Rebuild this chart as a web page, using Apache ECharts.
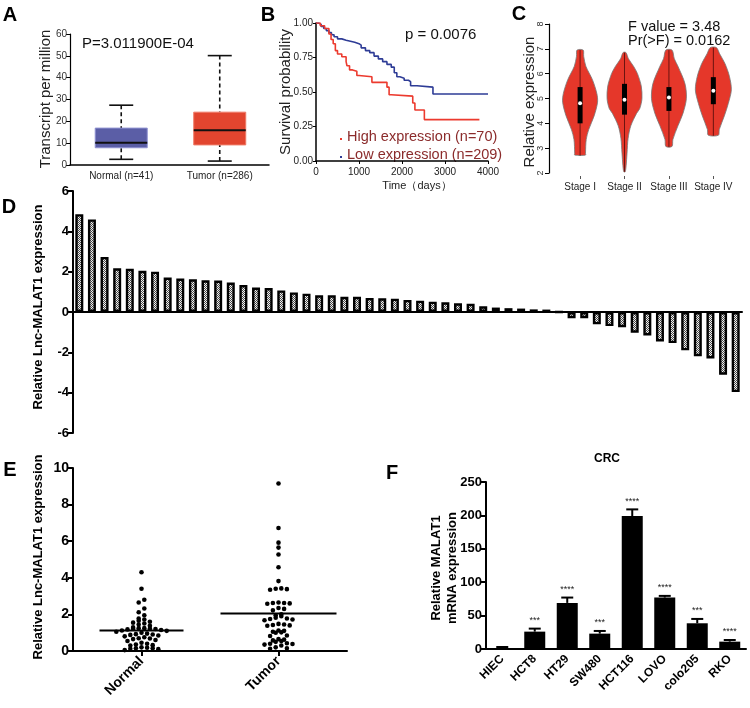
<!DOCTYPE html>
<html><head><meta charset="utf-8">
<script src="https://cdn.jsdelivr.net/npm/echarts@6/dist/echarts.min.js"></script>
<style>html,body{margin:0;padding:0;background:#fff}#main{width:750px;height:708px}</style>
</head><body><div id="main"></div>
<script>
// ---------------- DATA ----------------
// Panel A (box plots)
const A_GROUPS = ['Normal (n=41)', 'Tumor (n=286)'];
const A_MIN = [2.6, 1.8];
const A_Q1 = [7.9, 9.2];
const A_MED = [10.2, 15.9];
const A_Q3 = [16.9, 24.2];
const A_MAX = [27.4, 50.1];

// Panel B (Kaplan-Meier), [time, survival]
const KM_HIGH = [[0,1.0],[100,0.98],[200,0.96],[300,0.92],[350,0.88],[400,0.85],[450,0.80],[500,0.775],[600,0.755],[700,0.72],[720,0.69],[780,0.66],[850,0.65],[950,0.62],[1000,0.61],[1300,0.57],[1650,0.535],[1700,0.48],[1750,0.47],[2250,0.42],[2300,0.37],[2520,0.30],[3800,0.30]];
const KM_LOW = [[0,1.0],[60,0.99],[120,0.975],[180,0.96],[240,0.945],[300,0.93],[360,0.915],[420,0.9],[500,0.885],[600,0.875],[700,0.868],[800,0.86],[900,0.85],[1000,0.84],[1050,0.82],[1150,0.80],[1250,0.785],[1350,0.76],[1450,0.74],[1550,0.72],[1650,0.70],[1750,0.68],[1820,0.64],[1880,0.61],[1950,0.60],[2050,0.585],[2150,0.575],[2200,0.545],[2350,0.535],[2720,0.485],[4000,0.485]];

// Panel C (violins)
const C_STAGES = ['Stage I', 'Stage II', 'Stage III', 'Stage IV'];
const C_MIN = [2.7, 2.05, 3.05, 3.5];
const C_Q1 = [4.0, 4.35, 4.5, 4.77];
const C_MED = [4.81, 4.95, 5.04, 5.31];
const C_Q3 = [5.46, 5.59, 5.46, 5.86];
const C_MAX = [6.95, 6.85, 6.95, 7.05];
const C_PROF_1 = [[6.95,0.17],[6.7,0.2],[6.3,0.32],[5.75,0.69],[5.2,0.93],[4.85,0.97],[4.3,0.78],[3.75,0.48],[3.35,0.34],[2.8,0.3],[2.72,0.3]];
const C_PROF_2 = [[6.85,0.08],[6.6,0.22],[6.3,0.5],[6.0,0.72],[5.5,0.93],[5.0,0.97],[4.6,0.85],[4.4,0.67],[3.9,0.35],[3.4,0.2],[2.8,0.14],[2.3,0.09],[2.05,0.04]];
const C_PROF_3 = [[6.95,0.17],[6.6,0.3],[6.3,0.5],[5.6,0.89],[5.0,0.97],[4.4,0.78],[3.9,0.5],[3.35,0.22],[3.07,0.17]];
const C_PROF_4 = [[7.05,0.17],[6.8,0.35],[6.4,0.65],[5.9,0.89],[5.35,1.0],[4.8,0.83],[4.3,0.61],[3.75,0.33],[3.52,0.28]];

// Panel D (waterfall bars)
const D_VALUES = [4.85,4.59,2.73,2.17,2.14,2.04,2.0,1.71,1.66,1.62,1.57,1.56,1.46,1.34,1.21,1.19,1.07,0.97,0.91,0.83,0.83,0.75,0.75,0.70,0.68,0.66,0.60,0.56,0.51,0.48,0.43,0.41,0.28,0.22,0.19,0.17,0.13,0.12,0.0,-0.31,-0.31,-0.61,-0.70,-0.75,-1.03,-1.16,-1.46,-1.54,-1.90,-2.19,-2.30,-3.11,-3.97];

// Panel E (dot plot)
const E_GROUPS = ['Normal', 'Tumor'];
const E_NORMAL = [4.3,3.4,2.8,2.65,2.32,2.12,1.95,1.78,1.72,1.65,1.6,1.55,1.5,1.45,1.38,1.3,1.25,1.25,1.22,1.22,1.2,1.18,1.15,1.12,1.1,1.05,1.0,0.95,0.92,0.9,0.88,0.85,0.8,0.75,0.7,0.68,0.65,0.6,0.55,0.45,0.4,0.35,0.32,0.3,0.2,0.18,0.15,0.15,0.12,0.1,0.05];
const E_TUMOR = [9.15,6.72,5.92,5.65,5.27,4.58,3.82,3.42,3.38,3.35,3.4,2.65,2.62,2.6,2.62,2.58,2.35,2.3,2.22,2.0,1.95,1.9,1.82,1.78,1.75,1.72,1.68,1.48,1.45,1.42,1.4,1.38,1.12,1.1,1.05,1.02,1.0,0.85,0.82,0.65,0.62,0.58,0.55,0.5,0.42,0.4,0.38,0.35,0.3,0.2,0.15,0.12];
const E_MEANS = [1.12, 2.05];

// Panel F (cell lines)
const F_CELLS = ['HIEC','HCT8','HT29','SW480','HCT116','LOVO','colo205','RKO'];
const F_MEANS = [1, 26, 69, 23, 199, 77, 38.5, 11];
const F_ERRS = [2, 4.5, 8, 4, 10, 2.5, 6.5, 2.5];
const F_STARS = ['', '***', '****', '***', '****', '****', '***', '****'];

// ---------------- STYLE CONSTANTS ----------------
const FONT = '"Liberation Sans", Arial, Helvetica, sans-serif';
const BOX_COLORS = ['#5b5ea6', '#e2452f'];
const BOX_BORDERS = ['#8e90d0', '#ef7a66'];
const BOX_HALF = 26, CAP_HALF = 12;
const VIOLIN_HALF = 18;
const DOT_STEP = 5.6, DOT_R = 2.3, SWARM_BIN = 0.22;
const MEAN_HALF = [42, 58];

const C_PROFILES = [C_PROF_1, C_PROF_2, C_PROF_3, C_PROF_4];

function makePattern() {
  const c = document.createElement('canvas');
  c.width = 2; c.height = 2;
  const g = c.getContext('2d');
  g.fillStyle = '#f2f2f2'; g.fillRect(0, 0, 2, 2);
  g.fillStyle = '#4a4a4a'; g.fillRect(0, 0, 1, 1); g.fillRect(1, 1, 1, 1);
  return c;
}

function swarm(vals, cat) {
  const sorted = vals.slice().sort((a, b) => a - b);
  const rows = []; let cur = [];
  sorted.forEach(v => {
    if (cur.length && v - cur[0] > SWARM_BIN) { rows.push(cur); cur = []; }
    cur.push(v);
  });
  if (cur.length) rows.push(cur);
  const out = [];
  rows.forEach(r => {
    const n = r.length;
    const order = [];
    for (let k = 0; k < n; k++) order.push(k % 2 === 0 ? k / 2 : n - 1 - (k - 1) / 2);
    r.forEach((v, j) => out.push([cat, v, order[j] - (n - 1) / 2]));
  });
  return out;
}

const chart = echarts.init(document.getElementById('main'), null, {renderer: 'canvas', width: 750, height: 708});

function txt(text, x, y, font, opts) {
  opts = opts || {};
  return {
    type: 'text', x: x, y: y, rotation: opts.rot || 0, silent: true,
    style: {
      text: text, font: font, fill: opts.color || '#111',
      align: opts.align || 'center', textAlign: opts.align || 'center',
      verticalAlign: 'middle', textVerticalAlign: 'middle'
    }
  };
}
const R90 = Math.PI / 2;
const catFmt = (arr) => (v) => (Number.isInteger(v) && arr[v - 1]) ? arr[v - 1] : '';

const blackAxis = (w) => ({show: true, lineStyle: {color: '#000', width: w}});

const option = {
  animation: false,
  textStyle: {fontFamily: FONT},
  grid: [
    {left: 70, top: 34, width: 199, height: 131},
    {left: 316, top: 23, width: 172, height: 138},
    {left: 549, top: 24, width: 191, height: 149},
    {left: 73, top: 191, width: 669, height: 242},
    {left: 73, top: 468, width: 274, height: 183},
    {left: 486, top: 482, width: 260, height: 167}
  ],
  xAxis: [
    {gridIndex: 0, type: 'value', min: 0.48, max: 2.5, axisLine: blackAxis(1.5), axisTick: {show: false}, splitLine: {show: false},
      axisLabel: {customValues: [1, 2], formatter: catFmt(A_GROUPS), fontSize: 10, color: '#222', margin: 6}},
    {gridIndex: 1, type: 'value', min: 0, max: 4000, interval: 1000, axisLine: blackAxis(1.5), axisTick: {length: 3, lineStyle: {color: '#000'}}, splitLine: {show: false},
      axisLabel: {fontSize: 10, color: '#222', margin: 6, formatter: v => String(v)}},
    {gridIndex: 2, type: 'value', min: 0.3, max: 4.6, offset: 3, axisLine: {show: false}, splitLine: {show: false},
      axisTick: {show: true, customValues: [1, 2, 3, 4], length: 3, lineStyle: {color: '#555'}},
      axisLabel: {customValues: [1, 2, 3, 4], formatter: catFmt(C_STAGES), fontSize: 10, color: '#222', margin: 6}},
    {gridIndex: 3, type: 'category', data: D_VALUES.map((v, i) => String(i + 1)),
      axisLine: {onZero: true, lineStyle: {color: '#000', width: 2}},
      axisTick: {alignWithLabel: true, length: 6, lineStyle: {color: '#000', width: 1.5}}, axisLabel: {show: false}},
    {gridIndex: 4, type: 'value', min: 0.5, max: 2.5, axisLine: blackAxis(2), splitLine: {show: false},
      axisTick: {show: true, customValues: [1, 2], length: 5, lineStyle: {color: '#000', width: 2}},
      axisLabel: {customValues: [1, 2], formatter: catFmt(E_GROUPS), rotate: 45, fontSize: 14, fontWeight: 'bold', color: '#000', margin: 8}},
    {gridIndex: 5, type: 'category', data: F_CELLS, axisLine: {lineStyle: {color: '#000', width: 2}},
      axisTick: {alignWithLabel: true, length: 5, lineStyle: {color: '#000', width: 2}},
      axisLabel: {rotate: 45, fontSize: 12, fontWeight: 'bold', color: '#000', margin: 8, interval: 0}}
  ],
  yAxis: [
    {gridIndex: 0, type: 'value', min: 0, max: 60, interval: 10, axisLine: blackAxis(1.2), axisTick: {show: true, length: 4, lineStyle: {color: '#000'}},
      splitLine: {show: false}, axisLabel: {fontSize: 10, color: '#333', margin: 3}},
    {gridIndex: 1, type: 'value', min: 0, max: 1, interval: 0.25, axisLine: blackAxis(1.5), axisTick: {show: true, length: 3, lineStyle: {color: '#000'}},
      splitLine: {show: false}, axisLabel: {fontSize: 10, color: '#222', margin: 3, formatter: v => v.toFixed(2)}},
    {gridIndex: 2, type: 'value', min: 2, max: 8, interval: 1, axisLine: blackAxis(1.2), axisTick: {show: true, length: 4, lineStyle: {color: '#000'}},
      splitLine: {show: false}, axisLabel: {fontSize: 9, color: '#333', margin: 4, rotate: 90}},
    {gridIndex: 3, type: 'value', min: -6, max: 6, interval: 2, axisLine: blackAxis(2), axisTick: {show: true, length: 5, lineStyle: {color: '#000', width: 2}},
      splitLine: {show: false}, axisLabel: {fontSize: 13, fontWeight: 'bold', color: '#000', margin: 4}},
    {gridIndex: 4, type: 'value', min: 0, max: 10, interval: 2, axisLine: blackAxis(2), axisTick: {show: true, length: 5, lineStyle: {color: '#000', width: 2}},
      splitLine: {show: false}, axisLabel: {fontSize: 14, fontWeight: 'bold', color: '#000', margin: 4}},
    {gridIndex: 5, type: 'value', min: 0, max: 250, interval: 50, axisLine: blackAxis(2), axisTick: {show: true, length: 5, lineStyle: {color: '#000', width: 2}},
      splitLine: {show: false}, axisLabel: {fontSize: 13, fontWeight: 'bold', color: '#000', margin: 4}}
  ],
  series: [
    // A boxes
    {type: 'custom', xAxisIndex: 0, yAxisIndex: 0,
      data: A_GROUPS.map((g, i) => [i + 1, A_MIN[i], A_Q1[i], A_MED[i], A_Q3[i], A_MAX[i]]),
      encode: {x: 0, y: [1, 2, 3, 4, 5]},
      renderItem: function (params, api) {
        const i = params.dataIndex, x = api.value(0);
        const pMin = api.coord([x, api.value(1)]), pQ1 = api.coord([x, api.value(2)]), pMd = api.coord([x, api.value(3)]);
        const pQ3 = api.coord([x, api.value(4)]), pMax = api.coord([x, api.value(5)]);
        const ws = {stroke: '#111', lineWidth: 1.6, lineDash: [4, 3]};
        const cs = {stroke: '#111', lineWidth: 1.6};
        return {type: 'group', children: [
          {type: 'line', shape: {x1: pMax[0], y1: pMax[1], x2: pQ3[0], y2: pQ3[1]}, style: ws},
          {type: 'line', shape: {x1: pMin[0], y1: pMin[1], x2: pQ1[0], y2: pQ1[1]}, style: ws},
          {type: 'line', shape: {x1: pMax[0] - CAP_HALF, y1: pMax[1], x2: pMax[0] + CAP_HALF, y2: pMax[1]}, style: cs},
          {type: 'line', shape: {x1: pMin[0] - CAP_HALF, y1: pMin[1], x2: pMin[0] + CAP_HALF, y2: pMin[1]}, style: cs},
          {type: 'rect', shape: {x: pQ3[0] - BOX_HALF, y: pQ3[1], width: 2 * BOX_HALF, height: pQ1[1] - pQ3[1]},
            style: {fill: BOX_COLORS[i], stroke: BOX_BORDERS[i], lineWidth: 1}},
          {type: 'line', shape: {x1: pMd[0] - BOX_HALF, y1: pMd[1], x2: pMd[0] + BOX_HALF, y2: pMd[1]}, style: {stroke: '#111', lineWidth: 2}}
        ]};
      }},
    // B KM curves
    {type: 'line', xAxisIndex: 1, yAxisIndex: 1, data: KM_LOW, step: 'end', symbol: 'none', lineStyle: {color: '#2e3c96', width: 1.6}},
    {type: 'line', xAxisIndex: 1, yAxisIndex: 1, data: KM_HIGH, step: 'end', symbol: 'none', lineStyle: {color: '#ec3a2e', width: 1.6}},
    // C violins
    {type: 'custom', xAxisIndex: 2, yAxisIndex: 2,
      data: C_STAGES.map((s, i) => [i + 1, C_MIN[i], C_Q1[i], C_MED[i], C_Q3[i], C_MAX[i]]),
      encode: {x: 0, y: [1, 5]},
      renderItem: function (params, api) {
        const i = params.dataIndex, x = api.value(0);
        const prof = C_PROFILES[i];
        const right = prof.map(([v, d]) => { const p = api.coord([x, v]); return [p[0] + d * VIOLIN_HALF, p[1]]; });
        const left = prof.slice().reverse().map(([v, d]) => { const p = api.coord([x, v]); return [p[0] - d * VIOLIN_HALF, p[1]]; });
        const pMin = api.coord([x, api.value(1)]), pQ1 = api.coord([x, api.value(2)]), pMd = api.coord([x, api.value(3)]);
        const pQ3 = api.coord([x, api.value(4)]), pMax = api.coord([x, api.value(5)]);
        return {type: 'group', children: [
          {type: 'polygon', shape: {points: right.concat(left), smooth: 0.3}, style: {fill: '#e5372a', stroke: '#777', lineWidth: 0.8}},
          {type: 'line', shape: {x1: pMax[0], y1: pMax[1], x2: pMin[0], y2: pMin[1]}, style: {stroke: '#6b1410', lineWidth: 1}},
          {type: 'rect', shape: {x: pQ3[0] - 2.5, y: pQ3[1], width: 5, height: pQ1[1] - pQ3[1]}, style: {fill: '#000'}},
          {type: 'circle', shape: {cx: pMd[0], cy: pMd[1], r: 2}, style: {fill: '#fff'}}
        ]};
      }},
    // D bars
    {type: 'bar', xAxisIndex: 3, yAxisIndex: 3, data: D_VALUES, barWidth: 8,
      itemStyle: {color: {image: makePattern(), repeat: 'repeat'}, borderColor: '#000', borderWidth: 2.4}},
    // E dots
    {type: 'custom', xAxisIndex: 4, yAxisIndex: 4,
      data: swarm(E_NORMAL, 1).concat(swarm(E_TUMOR, 2)),
      encode: {x: 0, y: 1},
      renderItem: function (params, api) {
        const p = api.coord([api.value(0), api.value(1)]);
        return {type: 'circle', shape: {cx: p[0] + api.value(2) * DOT_STEP, cy: p[1], r: DOT_R}, style: {fill: '#000'}};
      }},
    // E mean lines
    {type: 'custom', xAxisIndex: 4, yAxisIndex: 4,
      data: E_MEANS.map((m, i) => [i + 1, m]),
      encode: {x: 0, y: 1},
      renderItem: function (params, api) {
        const p = api.coord([api.value(0), api.value(1)]);
        const h = MEAN_HALF[params.dataIndex];
        return {type: 'line', shape: {x1: p[0] - h, y1: p[1], x2: p[0] + h, y2: p[1]}, style: {stroke: '#000', lineWidth: 2}};
      }},
    // F bars
    {type: 'bar', xAxisIndex: 5, yAxisIndex: 5, data: F_MEANS, barWidth: 21, itemStyle: {color: '#000'}},
    // F error bars + stars
    {type: 'custom', xAxisIndex: 5, yAxisIndex: 5,
      data: F_CELLS.map((c, i) => [i, F_MEANS[i], F_ERRS[i]]),
      encode: {x: 0, y: 1},
      renderItem: function (params, api) {
        const i = params.dataIndex, x = api.value(0), m = api.value(1), e = api.value(2);
        const pb = api.coord([x, m]), pt = api.coord([x, m + e]);
        return {type: 'group', children: [
          {type: 'line', shape: {x1: pb[0], y1: pb[1], x2: pt[0], y2: pt[1]}, style: {stroke: '#000', lineWidth: 2}},
          {type: 'line', shape: {x1: pt[0] - 6, y1: pt[1], x2: pt[0] + 6, y2: pt[1]}, style: {stroke: '#000', lineWidth: 2}},
          {type: 'text', x: pt[0], y: pt[1] - 8, style: {text: F_STARS[i], font: '9px ' + FONT, fill: '#222', align: 'center', textAlign: 'center', verticalAlign: 'middle', textVerticalAlign: 'middle'}}
        ]};
      }}
  ],
  graphic: [
    txt('A', 10, 15, 'bold 20px ' + FONT, {color: '#000'}),
    txt('B', 268, 15, 'bold 20px ' + FONT, {color: '#000'}),
    txt('C', 519, 14, 'bold 20px ' + FONT, {color: '#000'}),
    txt('D', 9, 207, 'bold 20px ' + FONT, {color: '#000'}),
    txt('E', 10, 470, 'bold 20px ' + FONT, {color: '#000'}),
    txt('F', 392, 473, 'bold 20px ' + FONT, {color: '#000'}),
    txt('Transcript per million', 46, 99, '15px ' + FONT, {rot: R90, color: '#222'}),
    txt('P=3.011900E-04', 82, 44, '15px ' + FONT, {align: 'left', color: '#111'}),
    txt('Survival probability', 286, 92, '15px ' + FONT, {rot: R90, color: '#222'}),
    txt('Time（days）', 417, 186, '11px ' + FONT, {color: '#222'}),
    txt('p = 0.0076', 405, 35, '15px ' + FONT, {align: 'left', color: '#111'}),
    {type: 'rect', shape: {x: 340, y: 138, width: 2, height: 2}, style: {fill: '#ec3a2e'}, silent: true},
    {type: 'rect', shape: {x: 340, y: 156, width: 2, height: 2}, style: {fill: '#2e3c96'}, silent: true},
    txt('High expression (n=70)', 347, 137, '14.5px ' + FONT, {align: 'left', color: '#8b2b2b'}),
    txt('Low expression (n=209)', 347, 155, '14.5px ' + FONT, {align: 'left', color: '#8b2b2b'}),
    txt('Relative expression', 530, 102, '15px ' + FONT, {rot: R90, color: '#222'}),
    txt('F value = 3.48', 628, 27, '14.5px ' + FONT, {align: 'left', color: '#111'}),
    txt('Pr(>F) = 0.0162', 628, 41, '14.5px ' + FONT, {align: 'left', color: '#111'}),
    txt('Relative Lnc-MALAT1 expression', 38, 307, 'bold 13px ' + FONT, {rot: R90, color: '#000'}),
    txt('Relative Lnc-MALAT1 expression', 38, 557, 'bold 13px ' + FONT, {rot: R90, color: '#000'}),
    txt('CRC', 607, 459, 'bold 12px ' + FONT, {color: '#000'}),
    txt('Relative MALAT1', 436, 568, 'bold 13px ' + FONT, {rot: R90, color: '#000'}),
    txt('mRNA expression', 452, 568, 'bold 13px ' + FONT, {rot: R90, color: '#000'})
  ]
};
chart.setOption(option);
</script></body></html>
